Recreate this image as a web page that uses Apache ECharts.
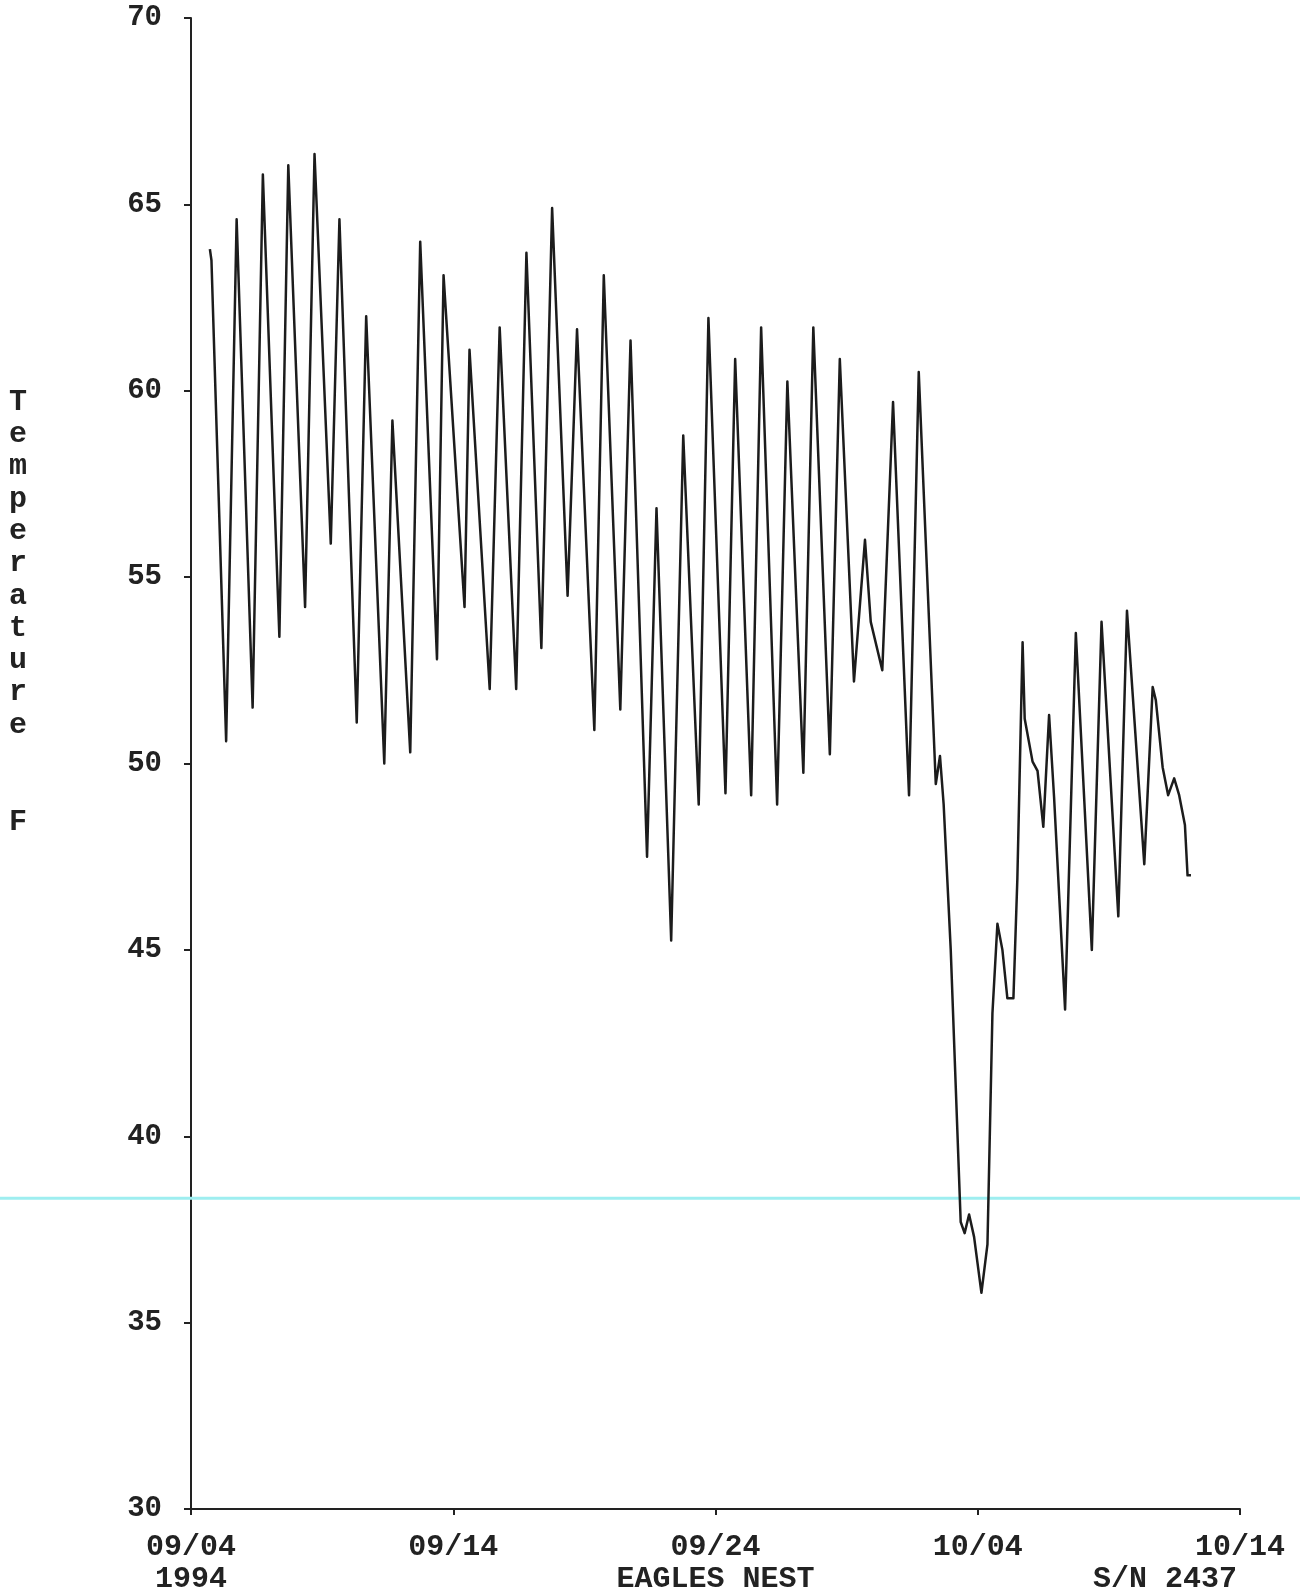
<!DOCTYPE html>
<html>
<head>
<meta charset="utf-8">
<script src="https://cdn.jsdelivr.net/npm/echarts@6/dist/echarts.min.js"></script>
<style>
  html, body { margin: 0; padding: 0; background: #ffffff; }
  #chart { width: 1300px; height: 1595px; }
</style>
</head>
<body>
<div id="chart"></div>
<script>
// Days elapsed since 09/04/1994 00:00
const days = [
  0.72, 0.78, 1.34, 1.74, 2.35, 2.74, 3.37, 3.71, 4.35, 4.71,
  5.33, 5.66, 6.32, 6.68, 7.37, 7.68, 8.36, 8.74, 9.38, 9.63,
  10.43, 10.62, 11.39, 11.77, 12.40, 12.79, 13.36, 13.77, 14.36, 14.72,
  15.38, 15.74, 16.37, 16.76, 17.39, 17.75, 18.31, 18.77, 19.36, 19.73,
  20.38, 20.75, 21.36, 21.74, 22.35, 22.74, 23.35, 23.73, 24.36, 24.74,
  25.28, 25.70, 25.92, 26.36, 26.77, 27.38, 27.75, 28.40, 28.56, 28.70,
  28.97, 29.35, 29.50, 29.67, 29.86, 30.14, 30.37, 30.56, 30.75, 30.94,
  31.13, 31.36, 31.51, 31.71, 31.79, 32.09, 32.28, 32.50, 32.72, 32.91,
  33.33, 33.74, 34.35, 34.72, 35.36, 35.69, 36.35, 36.67, 36.79, 37.05,
  37.26, 37.49, 37.68, 37.90, 38.00, 38.13
];
// Temperature, degrees F
const temps = [
  63.8, 63.5, 50.6, 64.6, 51.5, 65.8, 53.4, 66.05, 54.2, 66.35,
  55.9, 64.6, 51.1, 62.0, 50.0, 59.2, 50.3, 64.0, 52.8, 63.1,
  54.2, 61.1, 52.0, 61.7, 52.0, 63.7, 53.1, 64.9, 54.5, 61.65,
  50.9, 63.1, 51.45, 61.35, 47.5, 56.85, 45.25, 58.8, 48.9, 61.95,
  49.2, 60.85, 49.15, 61.7, 48.9, 60.25, 49.75, 61.7, 50.25, 60.85,
  52.2, 56.0, 53.8, 52.5, 59.7, 49.15, 60.5, 49.45, 50.2, 48.9,
  45.0, 37.7, 37.4, 37.9, 37.3, 35.8, 37.1, 43.3, 45.7, 45.0,
  43.7, 43.7, 46.9, 53.25, 51.2, 50.05, 49.8, 48.3, 51.3, 49.1,
  43.4, 53.5, 45.0, 53.8, 45.9, 54.1, 47.3, 52.05, 51.7, 49.9,
  49.15, 49.6, 49.15, 48.35, 47.0, 47.0
];
const xTickValues = [0, 10, 20, 30, 40];
const xTickLabels = ['09/04\n1994', '09/14', '09/24\nEAGLES NEST', '10/04', '10/14'];
const yTicks = [30, 35, 40, 45, 50, 55, 60, 65, 70];
const yAxisTitle = 'T\ne\nm\np\ne\nr\na\nt\nu\nr\ne\n\n\nF';
const serialText = 'S/N 2437';
const artifactLineValue = 38.34;

const FONT = "'Liberation Mono', 'DejaVu Sans Mono', monospace";
const INK = '#222222';

const chart = echarts.init(document.getElementById('chart'), null, { renderer: 'canvas' });

const option = {
  backgroundColor: '#ffffff',
  animation: false,
  grid: { left: 191, right: 60, top: 18, bottom: 85, containLabel: false },
  xAxis: {
    type: 'value',
    min: 0, max: 40, interval: 10,
    axisLine: { show: true, onZero: false, lineStyle: { color: INK, width: 2 } },
    axisTick: { show: true, length: 6, inside: false, lineStyle: { color: INK, width: 2 } },
    splitLine: { show: false },
    axisLabel: {
      show: true, margin: 22, showMinLabel: true, showMaxLabel: true,
      fontFamily: FONT, fontSize: 30, fontWeight: 'bold', color: INK, lineHeight: 32,
      formatter: function (v) {
        const i = xTickValues.indexOf(v);
        return i >= 0 ? xTickLabels[i] : '';
      }
    }
  },
  yAxis: {
    type: 'value',
    min: yTicks[0], max: yTicks[yTicks.length - 1], interval: 5,
    axisLine: { show: true, onZero: false, lineStyle: { color: INK, width: 2 } },
    axisTick: { show: true, length: 7, inside: false, lineStyle: { color: INK, width: 2 } },
    splitLine: { show: false },
    axisLabel: {
      show: true, margin: 29, showMinLabel: true, showMaxLabel: true,
      fontFamily: FONT, fontSize: 29, fontWeight: 'bold', color: INK
    }
  },
  series: [{
    type: 'line',
    data: days.map((d, i) => [d, temps[i]]),
    showSymbol: false,
    smooth: false,
    lineStyle: { color: '#1c1c1c', width: 2.5, join: 'round' },
    z: 3
  }]
};
chart.setOption(option);

// Extra annotations positioned through the axes' own scales
const yArtifact = chart.convertToPixel({ yAxisIndex: 0 }, artifactLineValue);
const xEnd = chart.convertToPixel({ xAxisIndex: 0 }, 40);
const yBase = chart.convertToPixel({ yAxisIndex: 0 }, 30);

chart.setOption({
  graphic: [
    {
      type: 'line', z: 1, silent: true,
      shape: { x1: 0, y1: yArtifact, x2: 1300, y2: yArtifact },
      style: { stroke: '#9eeef0', lineWidth: 3 }
    },
    {
      type: 'text', silent: true,
      x: 18, y: 386,
      style: {
        text: yAxisTitle, fill: INK,
        font: "bold 30px " + FONT,
        textAlign: 'center', textVerticalAlign: 'top', lineHeight: 32.3
      }
    },
    {
      type: 'text', silent: true,
      x: xEnd - 3, y: yBase + 22 + 32,
      style: {
        text: serialText, fill: INK,
        font: "bold 30px " + FONT,
        textAlign: 'right', textVerticalAlign: 'top', lineHeight: 32
      }
    }
  ]
});
</script>
</body>
</html>
